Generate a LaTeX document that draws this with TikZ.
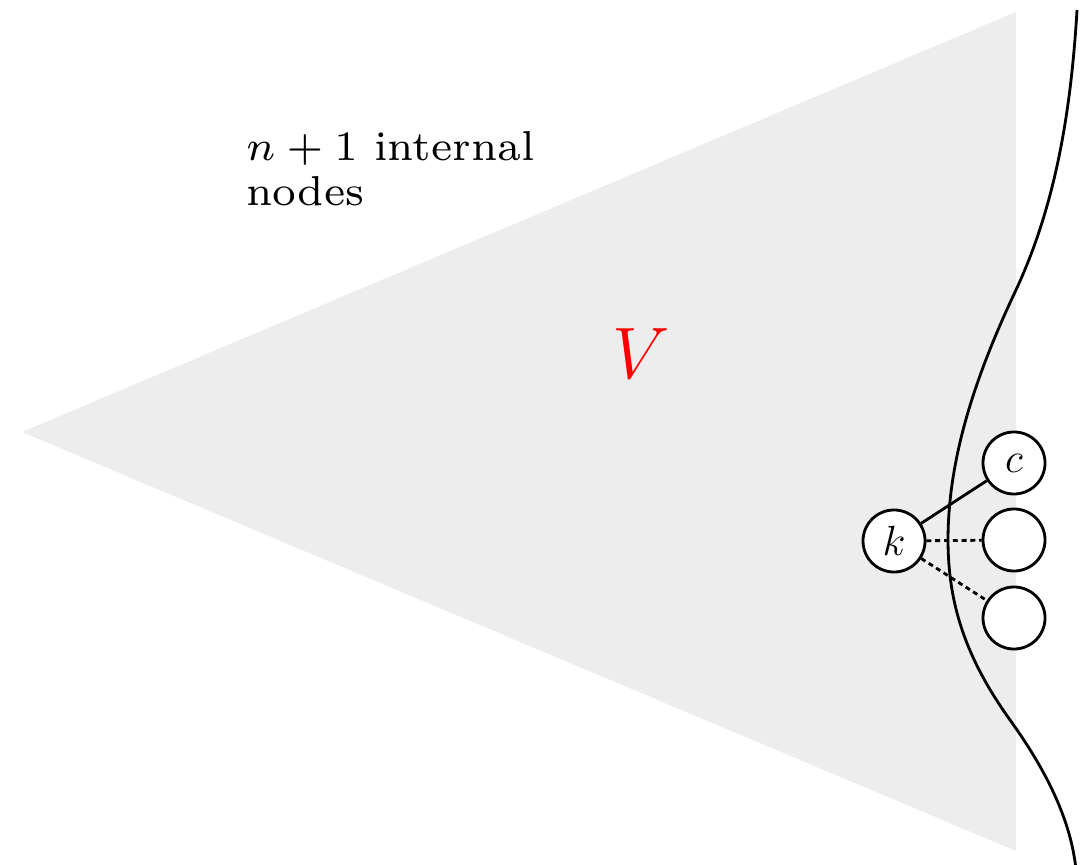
\documentclass[tikz,border=0pt]{standalone}
\begin{document}
\begin{tikzpicture}[x=0.01cm,y=-0.01cm,
  vert/.style={circle,draw,line width=0.8pt,fill=white,minimum size=0.62cm,inner sep=0pt,font=\large},
  edge/.style={line width=0.8pt},
  dedge/.style={line width=0.8pt,dash pattern=on 1.4pt off 1.1pt}]
\useasboundingbox (0,0) rectangle (1080,865);
\fill[black!7] (22,432) -- (1016,12) -- (1016,851) -- cycle;
\draw[line width=0.8pt] (1077,10) .. controls (1071,110) and (1056,205) .. (1015,292)
  .. controls (976,375) and (948,457) .. (948,540)
  .. controls (948,603) and (965,657) .. (1010,720)
  .. controls (1046,770) and (1071,820) .. (1076,870);
\node[text=red,font=\fontsize{20}{24}\selectfont] (V) at (641,354) {$V$};
\node[anchor=north west,align=left,inner sep=0pt,scale=1.7,font=\fontsize{7}{7.6}\selectfont] (lbl) at (245,130) {$n+1$ internal\\nodes};
\node[vert] (k) at (894,541) {$k$};
\node[vert] (c) at (1014,463) {$c$};
\node[vert] (m) at (1014,540) {};
\node[vert] (b) at (1014,618) {};
\draw[edge] (k) -- (c);
\draw[dedge] (k) -- (m);
\draw[dedge] (k) -- (b);
\end{tikzpicture}
\end{document}
